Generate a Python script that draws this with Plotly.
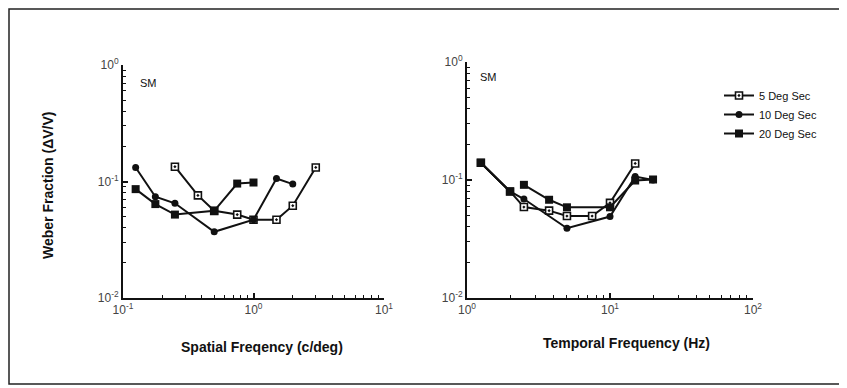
import plotly.graph_objects as go

# ---- data: spatial frequency panel ----
sf_5_x = [0.25, 0.375, 0.5, 0.75, 1.0, 1.5, 2.0, 3.0]
sf_5_y = [0.134, 0.076, 0.056, 0.052, 0.047, 0.047, 0.062, 0.132]
sf_10_x = [0.125, 0.177, 0.25, 0.5, 1.0, 1.5, 2.0]
sf_10_y = [0.132, 0.074, 0.065, 0.037, 0.047, 0.106, 0.095]
sf_20_x = [0.125, 0.177, 0.25, 0.5, 0.75, 1.0]
sf_20_y = [0.086, 0.064, 0.052, 0.056, 0.096, 0.098]

# ---- data: temporal frequency panel ----
tf_5_x = [1.25, 2.0, 2.5, 3.75, 5.0, 7.5, 10.0, 15.0]
tf_5_y = [0.140, 0.080, 0.059, 0.055, 0.0495, 0.0495, 0.064, 0.138]
tf_10_x = [1.25, 2.0, 2.5, 5.0, 10.0, 15.0, 20.0]
tf_10_y = [0.140, 0.080, 0.069, 0.039, 0.049, 0.107, 0.100]
tf_20_x = [1.25, 2.0, 2.5, 2.5, 3.75, 5.0, 10.0, 15.0, 20.0]
tf_20_y = [0.140, 0.080, None, 0.091, 0.068, 0.0587, 0.0587, 0.099, 0.101]

series_names = ["5 Deg Sec", "10 Deg Sec", "20 Deg Sec"]
left_xticks = ["10<sup>-1</sup>", "10<sup>0</sup>", "10<sup>1</sup>"]
right_xticks = ["10<sup>0</sup>", "10<sup>1</sup>", "10<sup>2</sup>"]
yticks = ["10<sup>-2</sup>", "10<sup>-1</sup>", "10<sup>0</sup>"]

# page has an 8px body margin; figure sized to fill the rest of the window
OFF = 8
W, H = 847 - OFF, 388 - OFF
def px(x): return (x - OFF) / W
def py(y): return 1 - (y - OFF) / H

ink = "#111111"
styles = [
    dict(symbol="square-dot", size=7, color="white", line=dict(color=ink, width=1.6)),
    dict(symbol="circle", size=7, color=ink, line=dict(color=ink, width=0)),
    dict(symbol="square", size=8, color=ink, line=dict(color=ink, width=0)),
]

fig = go.Figure()
left = [(sf_5_x, sf_5_y), (sf_10_x, sf_10_y), (sf_20_x, sf_20_y)]
right = [(tf_5_x, tf_5_y), (tf_10_x, tf_10_y), (tf_20_x, tf_20_y)]
for i, (x, y) in enumerate(left):
    fig.add_trace(go.Scatter(x=x, y=y, mode="lines+markers", xaxis="x", yaxis="y",
                             line=dict(color=ink, width=2), marker=styles[i],
                             showlegend=False, name=series_names[i]))
for i, (x, y) in enumerate(right):
    fig.add_trace(go.Scatter(x=x, y=y, mode="lines+markers", xaxis="x2", yaxis="y2",
                             line=dict(color=ink, width=2), marker=styles[i],
                             connectgaps=False, showlegend=True, name=series_names[i]))

def minor_vals(lo, hi):
    v = []
    for d in range(lo, hi):
        for m in range(2, 10):
            v.append(m * 10.0 ** d)
    return v

tickfont = dict(family="Liberation Sans, Arial", size=12, color="#444444")
axcommon = dict(type="log", showgrid=False, zeroline=False, showline=True,
                linecolor=ink, linewidth=2, ticks="inside", ticklen=5,
                tickwidth=1.5, tickcolor=ink, tickfont=tickfont, automargin=False)
minor = dict(ticks="inside", ticklen=3, tickcolor=ink, tickwidth=1)

fig.update_layout(
    width=W, height=H, margin=dict(l=0, r=0, t=0, b=0),
    paper_bgcolor="white", plot_bgcolor="white",
    xaxis=dict(domain=[px(123), px(384)], range=[-1, 1], anchor="y",
               tickvals=[0.1, 1, 10], ticktext=left_xticks,
               minor=dict(tickvals=minor_vals(-1, 1), **minor), **axcommon),
    yaxis=dict(domain=[py(298), py(65)], range=[-2, 0], anchor="x",
               tickvals=[0.01, 0.1, 1], ticktext=yticks,
               minor=dict(tickvals=minor_vals(-2, 0), **minor), **axcommon),
    xaxis2=dict(domain=[px(467), px(753)], range=[0, 2], anchor="y2",
                tickvals=[1, 10, 100], ticktext=right_xticks,
                minor=dict(tickvals=minor_vals(0, 2), **minor), **axcommon),
    yaxis2=dict(domain=[py(298), py(62)], range=[-2, 0], anchor="x2",
                tickvals=[0.01, 0.1, 1], ticktext=yticks,
                minor=dict(tickvals=minor_vals(-2, 0), **minor), **axcommon),
    legend=dict(x=px(719), y=py(81), xanchor="left", yanchor="top",
                bgcolor="rgba(0,0,0,0)", tracegroupgap=0, itemwidth=30,
                font=dict(family="Liberation Sans Narrow, Liberation Sans, Arial", size=11, color=ink)),
    showlegend=True,
)

labfont = dict(family="Liberation Sans Narrow, Liberation Sans, Arial", size=14, color=ink)
fig.add_annotation(x=px(262), y=py(347), xref="paper", yref="paper", showarrow=False,
                   xanchor="center", yanchor="middle",
                   text="<b>Spatial Freqency (c/deg)</b>", font=labfont)
fig.add_annotation(x=px(626), y=py(343), xref="paper", yref="paper", showarrow=False,
                   xanchor="center", yanchor="middle",
                   text="<b>Temporal Frequency (Hz)</b>", font=labfont)
fig.add_annotation(x=px(48), y=py(185), xref="paper", yref="paper", showarrow=False,
                   xanchor="center", yanchor="middle",
                   text="<b>Weber Fraction (ΔV/V)</b>", textangle=-90,
                   font=dict(family="Liberation Sans, Arial", size=14, color=ink))
smfont = dict(family="Liberation Sans, Arial", size=11, color=ink)
fig.add_annotation(x=px(138), y=py(83), xref="paper", yref="paper", showarrow=False,
                   xanchor="left", yanchor="middle", text="SM", font=smfont)
fig.add_annotation(x=px(478), y=py(77), xref="paper", yref="paper", showarrow=False,
                   xanchor="left", yanchor="middle", text="SM", font=smfont)

fig.add_shape(type="rect", xref="paper", yref="paper",
              x0=px(9), x1=px(845), y0=py(384), y1=py(9),
              line=dict(color="#222222", width=1.5))

fig.write_html("out.html")
